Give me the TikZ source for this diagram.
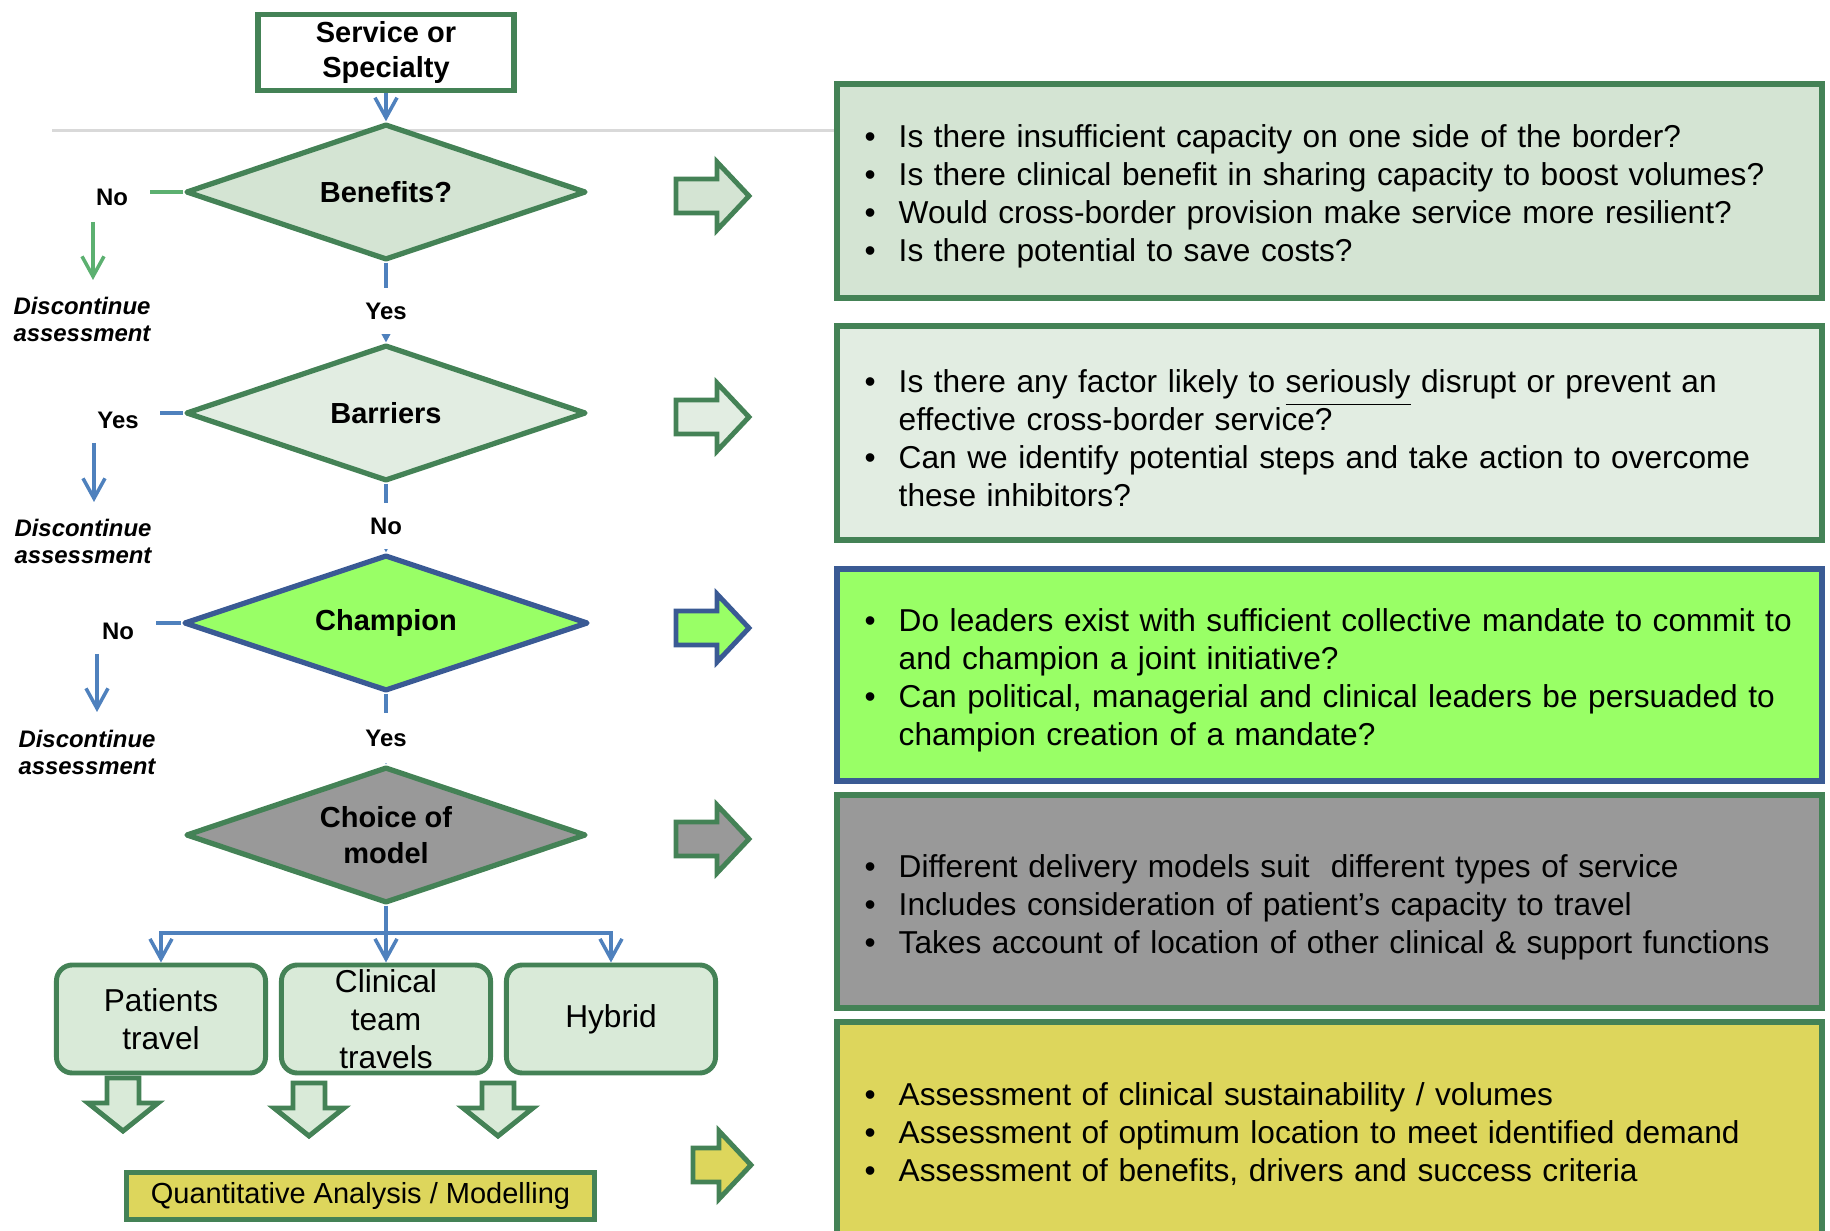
\documentclass[tikz,border=0pt]{standalone}
\usepackage{fontspec}
\setmainfont{Liberation Sans}
\usetikzlibrary{shapes.geometric,arrows.meta}

\definecolor{flowgreen}{RGB}{68,130,86}
\definecolor{nogreen}{RGB}{92,176,112}
\definecolor{linkblue}{RGB}{79,129,189}
\definecolor{benefill}{RGB}{212,228,211}
\definecolor{barfill}{RGB}{226,237,226}
\definecolor{champfill}{RGB}{153,255,102}
\definecolor{champline}{RGB}{58,90,148}
\definecolor{choicefill}{RGB}{153,153,153}
\definecolor{optfill}{RGB}{217,234,216}
\definecolor{quantfill}{RGB}{221,214,92}
\definecolor{dividergray}{RGB}{217,217,217}

\tikzset{
  flowlink/.style={linkblue, line width=1pt},
  flowtip/.style={-{Straight Barb[length=0.2cm,width=0.22cm]}},
  decision/.style={diamond, aspect=3, draw=flowgreen, line width=1.5pt, line join=round,
    minimum width=4cm, minimum height=1.36cm, inner sep=0pt, align=center,
    font=\fontsize{8.25}{10.2}\selectfont\bfseries},
  option/.style={rectangle, rounded corners=0.16cm, draw=flowgreen, fill=optfill,
    line width=1.4pt, minimum width=2.09cm, minimum height=1.08cm, inner sep=0pt,
    align=center, font=\fontsize{9}{10.8}\selectfont},
  answer/.style={fill=white, inner xsep=0.21cm, inner ysep=0pt, minimum height=0.46cm,
    font=\fontsize{6.8}{7.7}\selectfont\bfseries},
  discontinue/.style={align=center, inner sep=0pt, font=\fontsize{6.8}{7.7}\selectfont\bfseries\itshape},
  panel/.style={line width=1.6pt},
  question/.style={anchor=west, text width=9.5cm, align=left, inner sep=0pt,
    font=\fontsize{9}{10.8}\selectfont},
  blockarrow/.style={line width=1.4pt},
}

\newcommand{\qitem}[1]{\par\hangindent=0.34cm\hangafter=1\noindent\makebox[0.34cm][l]{\textbullet}#1}
\newcommand{\rightblock}[4]{% position, shaft length, fill, border
  \draw[blockarrow, fill=#3, draw=#4] #1 ++(0,-17) -- ++(#2,0) -- ++(0,-17) -- ++(32,34)
    -- ++(-32,34) -- ++(0,-17) -- ++(-#2,0) -- cycle;}
\newcommand{\downblock}[1]{%
  \draw[blockarrow, fill=optfill, draw=flowgreen] #1 ++(-16,0) -- ++(0,25) -- ++(-19,0)
    -- ++(35,28) -- ++(35,-28) -- ++(-19,0) -- ++(0,-25) -- cycle;}

\begin{document}
\begin{tikzpicture}[x=0.01cm, y=-0.01cm]
\useasboundingbox (0,0) rectangle (1830,1231);

% divider line
\draw[dividergray, line width=0.85pt] (52,131) -- (836,131);

% question panels
\draw[panel, draw=flowgreen, fill=benefill] (837,84) rectangle (1822,298);
\draw[panel, draw=flowgreen, fill=barfill] (837,326) rectangle (1822,540);
\draw[panel, draw=champline, fill=champfill] (837,569) rectangle (1822,781);
\draw[panel, draw=flowgreen, fill=choicefill] (837,795) rectangle (1822,1008);
\draw[panel, draw=flowgreen, fill=quantfill] (837,1022) rectangle (1822,1240);

\node[question] (q1) at (864,189) {%
  \qitem{Is there insufficient capacity on one side of the border?}
  \qitem{Is there clinical benefit in sharing capacity to boost volumes?}
  \qitem{Would cross-border provision make service more resilient?}
  \qitem{Is there potential to save costs?}\par};
\node[question] (q2) at (864,431) {%
  \qitem{Is there any factor likely to \underline{seriously} disrupt or prevent an\newline effective cross-border service?}
  \qitem{Can we identify potential steps and take action to overcome\newline these inhibitors?}\par};
\node[question] (q3) at (864,673) {%
  \qitem{Do leaders exist with sufficient collective mandate to commit to\newline and champion a joint initiative?}
  \qitem{Can political, managerial and clinical leaders be persuaded to\newline champion creation of a mandate?}\par};
\node[question] (q4) at (864,900) {%
  \qitem{Different delivery models suit\ \ different types of service}
  \qitem{Includes consideration of patient’s capacity to travel}
  \qitem{Takes account of location of other clinical \& support functions}\par};
\node[question] (q5) at (864,1127) {%
  \qitem{Assessment of clinical sustainability / volumes}
  \qitem{Assessment of optimum location to meet identified demand}
  \qitem{Assessment of benefits, drivers and success criteria}\par};

% pointer arrows
\rightblock{(676,196)}{41}{benefill}{flowgreen}
\rightblock{(676,417)}{41}{barfill}{flowgreen}
\rightblock{(676,628)}{41}{champfill}{champline}
\rightblock{(676,839)}{41}{choicefill}{flowgreen}
\rightblock{(693,1165)}{26}{quantfill}{flowgreen}

% flow chart
\node[draw=flowgreen, fill=white, line width=1.5pt, minimum width=2.56cm, minimum height=0.76cm,
  inner sep=0pt, align=center, font=\fontsize{8.25}{10.2}\selectfont\bfseries] (service) at (386,52.5) {Service or\\Specialty};
\node[decision, fill=benefill] (benefits) at (386,192) {Benefits?};
\node[decision, fill=barfill] (barriers) at (386,413) {Barriers};
\node[decision, fill=champfill, draw=champline, minimum width=4.04cm] (champion) at (386,623) {Champion};
\node[decision, fill=choicefill] (choice) at (386,835) {Choice of\\model};

\node[option] (patients) at (161,1019) {Patients\\travel};
\node[option] (clinical) at (386,1019) {Clinical\\team\\travels};
\node[option] (hybrid) at (611,1019) {Hybrid};

\node[draw=flowgreen, fill=quantfill, line width=1.5pt, minimum width=4.68cm, minimum height=0.47cm,
  inner sep=0pt, font=\fontsize{8.25}{10}\selectfont] (quant) at (360.5,1196) {Quantitative Analysis / Modelling};

\draw[flowlink, flowtip] (service.south) -- (benefits.north);
\draw[flowlink, flowtip] (benefits.south) -- (barriers.north);
\draw[flowlink, flowtip] (barriers.south) -- (champion.north);
\draw[flowlink, flowtip] (champion.south) -- (choice.north);

\coordinate (fork) at (386,933);
\draw[flowlink] (choice.south) -- (fork);
\draw[flowlink, flowtip] (fork) -| (patients.north);
\draw[flowlink, flowtip] (fork) -- (clinical.north);
\draw[flowlink, flowtip] (fork) -| (hybrid.north);

\downblock{(123,1078)}
\downblock{(309,1083)}
\downblock{(498,1083)}

% answers
\node[answer] (yes1) at (386,311) {Yes};
\node[answer] (no2) at (386,526) {No};
\node[answer, minimum height=0.5cm] (yes3) at (386,738) {Yes};
\node[answer] (no1) at (112,197) {No};
\node[answer] (yes2) at (118,420) {Yes};
\node[answer] (no3) at (118,631) {No};
\draw[nogreen, line width=1pt] (benefits.west) -- (benefits.west -| no1.east);
\draw[flowlink] (barriers.west) -- (barriers.west -| yes2.east);
\draw[flowlink] (champion.west) -- (champion.west -| no3.east);

% discontinue exits
\node[discontinue] (stop1) at (82,319) {Discontinue\\assessment};
\node[discontinue] (stop2) at (83,541) {Discontinue\\assessment};
\node[discontinue] (stop3) at (87,752) {Discontinue\\assessment};
\coordinate (out1) at (93,222);  \coordinate (in1) at (93,280);
\coordinate (out2) at (94,443);  \coordinate (in2) at (94,502);
\coordinate (out3) at (97,654);  \coordinate (in3) at (97,712);
\draw[nogreen, line width=1pt, flowtip] (out1) -- (in1);
\draw[flowlink, flowtip] (out2) -- (in2);
\draw[flowlink, flowtip] (out3) -- (in3);
\end{tikzpicture}
\end{document}
